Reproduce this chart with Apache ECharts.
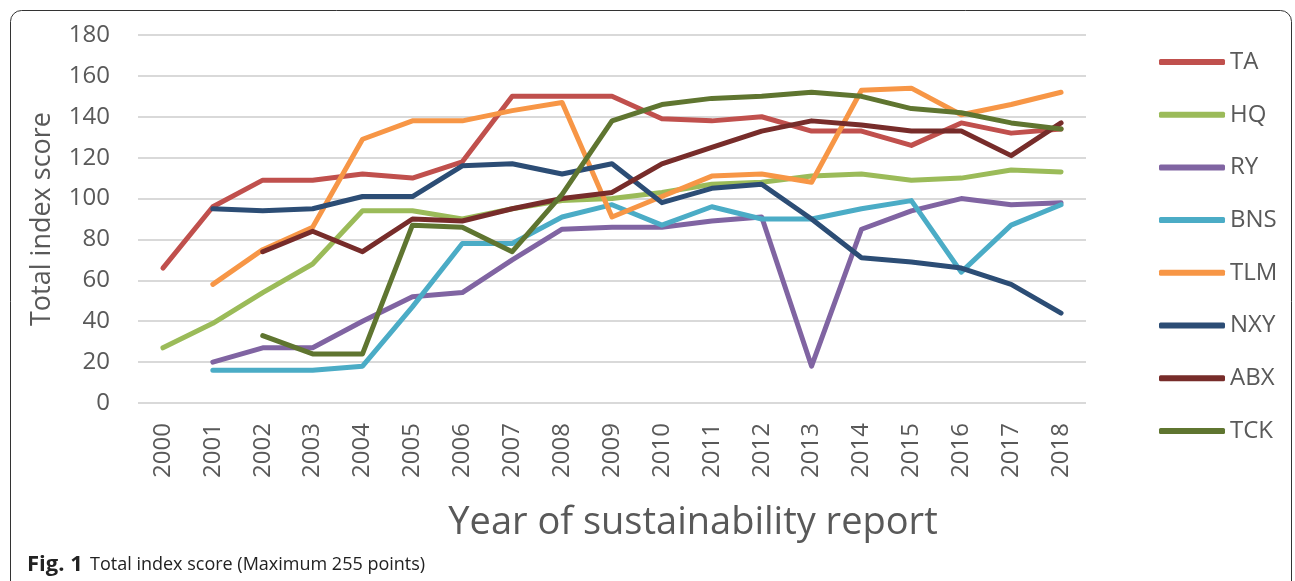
<!DOCTYPE html>
<html>
<head>
<meta charset="utf-8">
<script src="https://cdn.jsdelivr.net/npm/echarts@6/dist/echarts.min.js"></script>
<style>
html,body{margin:0;padding:0;background:#fff;}
#chart{width:1295px;height:581px;}
</style>
</head>
<body>
<div id="chart"></div>
<script>
var years = ['2000','2001','2002','2003','2004','2005','2006','2007','2008','2009','2010','2011','2012','2013','2014','2015','2016','2017','2018'];
var yTicks = [0,20,40,60,80,100,120,140,160,180];
var TA  = [66,96,109,109,112,110,118,150,150,150,139,138,140,133,133,126,137,132,134];
var HQ  = [27,39,54,68,94,94,90,95,99,100,103,107,108,111,112,109,110,114,113];
var RY  = [null,20,27,27,40,52,54,70,85,86,86,89,91,18,85,94,100,97,98];
var BNS = [null,16,16,16,18,47,78,78,91,97,87,96,90,90,95,99,64,87,97];
var TLM = [null,58,75,86,129,138,138,143,147,91,101,111,112,108,153,154,141,146,152];
var NXY = [null,95,94,95,101,101,116,117,112,117,98,105,107,90,71,69,66,58,44];
var ABX = [null,null,74,84,74,90,89,95,100,103,117,125,133,138,136,133,133,121,137];
var TCK = [null,null,33,24,24,87,86,74,102,138,146,149,150,152,150,144,142,137,134];

var seriesNames = ['TA','HQ','RY','BNS','TLM','NXY','ABX','TCK'];
var seriesData = [TA,HQ,RY,BNS,TLM,NXY,ABX,TCK];
var colors = ['#C0504D','#9BBB59','#8064A2','#4BACC6','#F79646','#2C4D75','#772C2A','#5F7530'];

var FONT = 'Open Sans';
var chart = echarts.init(document.getElementById('chart'));
var option = {
  animation: false,
  color: colors,
  textStyle: {fontFamily: FONT},
  grid: {left: 138, top: 35, width: 948, height: 368, containLabel: false},
  legend: {
    orient: 'vertical',
    left: 1154,
    top: 45,
    icon: 'roundRect',
    itemWidth: 66,
    itemHeight: 6,
    itemGap: 28.7,
    textStyle: {fontFamily: FONT, fontSize: 24, color: '#595959', lineHeight: 24},
    data: seriesNames
  },
  xAxis: {
    type: 'category',
    data: years,
    boundaryGap: true,
    axisLine: {show: false},
    axisTick: {show: false},
    axisLabel: {rotate: 90, fontSize: 24, color: '#595959', margin: 20, fontFamily: FONT}
  },
  yAxis: {
    type: 'value',
    min: 0, max: 180, interval: 20,
    name: 'Total index score',
    nameLocation: 'middle',
    nameGap: 82,
    nameTextStyle: {fontFamily: FONT, fontSize: 27, color: '#595959'},
    axisLine: {show: false},
    axisTick: {show: false},
    axisLabel: {fontSize: 24, color: '#595959', margin: 28, fontFamily: FONT,
      formatter: function(v){ return yTicks.indexOf(v) >= 0 ? String(v) : ''; }},
    splitLine: {lineStyle: {color: '#D9D9D9', width: 2}}
  },
  series: seriesNames.map(function(n, i){
    return {
      name: n, type: 'line', data: seriesData[i],
      symbol: 'none', connectNulls: false,
      lineStyle: {width: 5, color: colors[i], cap: 'round', join: 'round'},
      itemStyle: {color: colors[i]}
    };
  }),
  graphic: [
    {type: 'rect', shape: {x: 10.5, y: 10.5, width: 1281, height: 620, r: 11},
     style: {fill: 'none', stroke: '#333', lineWidth: 1}, silent: true},
    {type: 'text', x: 693, y: 523,
     style: {text: 'Year of sustainability report', fontSize: 38, fontFamily: FONT,
       fill: '#595959', align: 'center', verticalAlign: 'middle'}},
    {type: 'text', x: 27, y: 565,
     style: {text: 'Fig. 1', fontSize: 22, fontWeight: 'bold', fontFamily: FONT,
       fill: '#222', align: 'left', verticalAlign: 'middle'}},
    {type: 'text', x: 90, y: 565,
     style: {text: 'Total index score (Maximum 255 points)', fontSize: 18, fontFamily: FONT,
       fill: '#222', align: 'left', verticalAlign: 'middle'}}
  ]
};
chart.setOption(option);
</script>
</body>
</html>
